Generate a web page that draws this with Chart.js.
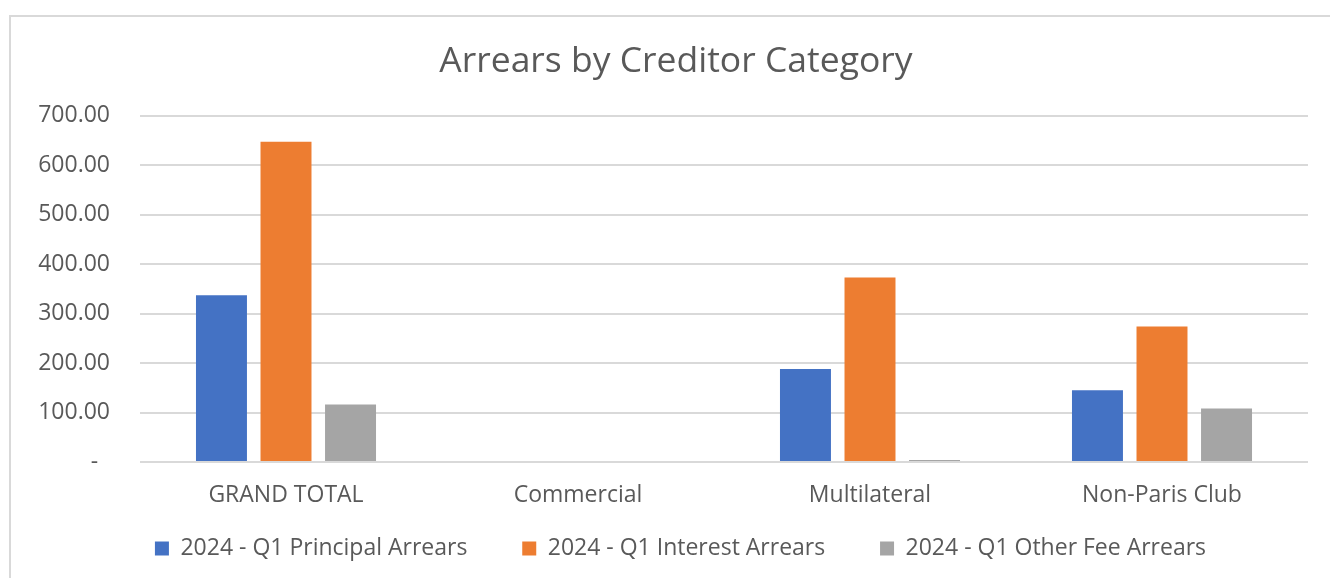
<!DOCTYPE html>
<html>
<head>
<meta charset="utf-8">
<script src="https://cdn.jsdelivr.net/npm/chart.js@4"></script>
<style>
  body { margin: 0; background: #fff; }
  #frame { position: absolute; left: 9px; top: 15px; width: 1340px; height: 600px; border: 2px solid #d9d9d9; }
  #wrap { position: absolute; left: 0; top: 0; width: 1330px; height: 578px; }
</style>
</head>
<body>
<div id="frame"></div>
<div id="wrap"><canvas id="arrearsChart" width="1330" height="578"></canvas></div>
<script>
// chart data
const categories = ['GRAND TOTAL', 'Commercial', 'Multilateral', 'Non-Paris Club'];
const principalArrears = [337, 0, 188, 145];
const interestArrears = [647, 0, 373, 274];
const otherFeeArrears = [116, 0, 4, 108];
const seriesNames = ['2024 - Q1 Principal Arrears', '2024 - Q1 Interest Arrears', '2024 - Q1 Other Fee Arrears'];

document.addEventListener('DOMContentLoaded', function () {
    const fontFamily = '"Open Sans", "Noto Sans", sans-serif';
    const textColor = '#595959';

    // width of the widest y label, so mirrored labels can be right aligned left of the plot
    const measureCtx = document.createElement('canvas').getContext('2d');
    measureCtx.font = '23px ' + fontFamily;
    const widestLabel = measureCtx.measureText('700.00').width;

    const ctx = document.getElementById('arrearsChart').getContext('2d');
    new Chart(ctx, {
        type: 'bar',
        data: {
            labels: categories,
            datasets: [{
                label: seriesNames[0],
                data: principalArrears,
                backgroundColor: '#4472c4',
            }, {
                label: seriesNames[1],
                data: interestArrears,
                backgroundColor: '#ed7d31',
            }, {
                label: seriesNames[2],
                data: otherFeeArrears,
                backgroundColor: '#a5a5a5',
            }]
        },
        options: {
            responsive: false,
            animation: false,
            categoryPercentage: 0.663,
            barPercentage: 0.79,
            layout: {
                padding: { left: 53, right: 22, top: 20, bottom: 8 }
            },
            scales: {
                x: {
                    grid: { display: false },
                    border: { display: false },
                    ticks: {
                        color: textColor,
                        font: { family: fontFamily, size: 23 },
                        padding: 12
                    },
                    afterFit: function (scale) { scale.height = 56; }
                },
                y: {
                    min: 0,
                    max: 700,
                    grid: { color: '#d9d9d9', lineWidth: 2, drawTicks: false },
                    border: { display: false },
                    ticks: {
                        stepSize: 100,
                        color: textColor,
                        font: { family: fontFamily, size: 23 },
                        mirror: true,
                        crossAlign: 'far',
                        padding: -30 - widestLabel,
                        callback: function (value) {
                            return value === 0 ? '-  ' : value.toFixed(2);
                        }
                    },
                    afterFit: function (scale) { scale.width = 87; }
                }
            },
            plugins: {
                title: {
                    display: true,
                    text: 'Arrears by Creditor Category ',
                    color: textColor,
                    font: { family: fontFamily, size: 35.5, weight: 'normal' },
                    padding: { top: 21, bottom: 32 }
                },
                legend: {
                    position: 'bottom',
                    labels: {
                        color: textColor,
                        font: { family: fontFamily, size: 23 },
                        boxWidth: 14,
                        boxHeight: 14,
                        padding: 19,
                        generateLabels: function (chart) {
                            const items = Chart.defaults.plugins.legend.labels.generateLabels(chart);
                            items.forEach(function (item, i) {
                                item.lineWidth = 0;
                                if (i < items.length - 1) item.text += '      ';
                            });
                            return items;
                        }
                    }
                },
                tooltip: { enabled: false }
            }
        }
    });
});
</script>
</body>
</html>
